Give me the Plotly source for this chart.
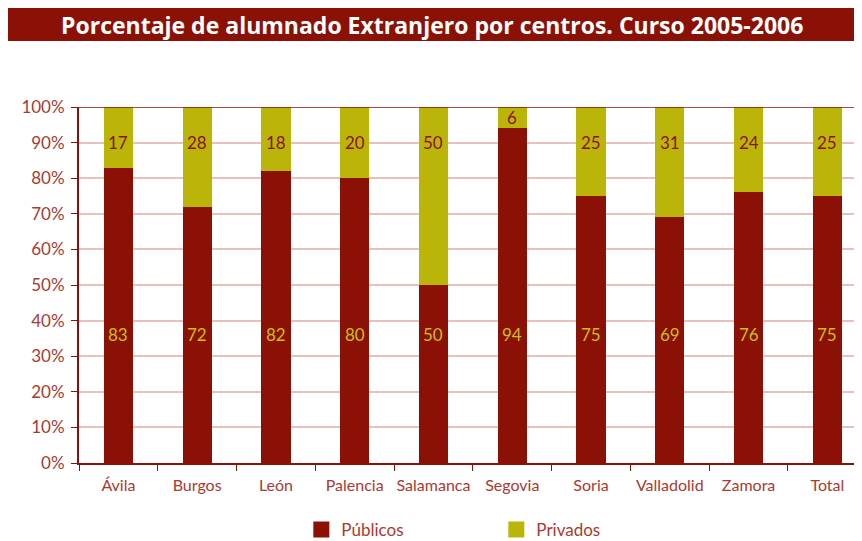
import plotly.graph_objects as go

categories = ["Ávila", "Burgos", "León", "Palencia", "Salamanca", "Segovia", "Soria", "Valladolid", "Zamora", "Total"]
publicos = [83, 72, 82, 80, 50, 94, 75, 69, 76, 75]
privados = [17, 28, 18, 20, 50, 6, 25, 31, 24, 25]
y_ticks = [0, 10, 20, 30, 40, 50, 60, 70, 80, 90, 100]
y_tick_text = [f"{v}%" for v in y_ticks]

RED = "rgb(139,17,7)"
OLIVE = "rgb(187,181,10)"
LABEL_YELLOW = "rgb(205,190,20)"
AXIS_TXT = "rgb(168,58,50)"
GRID = "rgb(230,195,186)"
FONT = "Lato"

# page offset: the browser places the figure 8px from the top-left corner
W, H = 854, 533
L, T, B = 71, 99, 78
PW, PH = W - L, H - T - B

fig = go.Figure()
fig.add_bar(x=categories, y=publicos, name="Públicos", marker=dict(color=RED, line=dict(width=0)),
            width=0.37, showlegend=False)
fig.add_bar(x=categories, y=privados, name="Privados", marker=dict(color=OLIVE, line=dict(width=0)),
            width=0.37, showlegend=False)

# legend proxies
fig.add_scatter(x=[None], y=[None], mode="markers", name="Públicos",
                marker=dict(symbol="square", size=20, color=RED))
fig.add_scatter(x=[None], y=[None], mode="markers", name="Privados",
                marker=dict(symbol="square", size=20, color=OLIVE))

annotations = []
for c, p, q in zip(categories, publicos, privados):
    annotations.append(dict(x=c, y=36, text=str(p), showarrow=False, xref="x", yref="y",
                            font=dict(family=FONT, size=17, color=LABEL_YELLOW)))
    yq = 90 if q >= 15 else p + q / 2
    annotations.append(dict(x=c, y=yq, text=str(q), showarrow=False, xref="x", yref="y",
                            font=dict(family=FONT, size=17, color=RED)))

annotations.append(dict(x=(424 - L) / PW, y=(H - B - 16.5) / PH, xref="paper", yref="paper",
                        text="<b>Porcentaje de alumnado Extranjero por centros. Curso 2005-2006</b>",
                        showarrow=False, xanchor="center", yanchor="middle",
                        font=dict(family="Open Sans", size=23, color="white")))

fig.update_layout(
    width=W, height=H,
    barmode="stack",
    plot_bgcolor="white", paper_bgcolor="white",
    margin=dict(l=L, r=0, t=T, b=B, autoexpand=False),
    font=dict(family=FONT, color=AXIS_TXT),
    showlegend=True,
    legend=dict(orientation="h", x=0.533, xanchor="center",
                yref="container", y=(H - 522) / H, yanchor="middle",
                traceorder="normal",
                font=dict(family=FONT, size=17, color=AXIS_TXT),
                entrywidth=150, entrywidthmode="pixels", itemsizing="trace",
                bgcolor="rgba(0,0,0,0)"),
    shapes=[
        dict(type="rect", xref="paper", yref="paper",
             x0=(0 - L) / PW, x1=(848 - L) / PW,
             y0=(H - B - 33) / PH, y1=(H - B - 0) / PH,
             fillcolor=RED, line=dict(width=0), layer="below"),
        dict(type="line", xref="paper", yref="y", x0=0, x1=1, y0=100, y1=100,
             line=dict(color=RED, width=1.5)),
    ],
    annotations=annotations,
)

fig.update_xaxes(
    type="category", range=[-0.5, 9.44],
    showline=True, linecolor=RED, linewidth=2,
    ticks="outside", tickson="boundaries", ticklen=6, tickcolor=RED, tickwidth=1,
    tickangle=0, automargin=False, ticklabelstandoff=7,
    showgrid=False, tickfont=dict(family=FONT, size=16, color=AXIS_TXT),
)
fig.update_yaxes(
    range=[0, 100], tickvals=y_ticks, ticktext=y_tick_text,
    showline=True, linecolor=RED, linewidth=2,
    ticks="outside", ticklen=6, tickcolor=RED, tickwidth=1,
    showgrid=True, gridcolor=GRID, gridwidth=2,
    zeroline=False, automargin=False,
    tickfont=dict(family=FONT, size=17, color=AXIS_TXT),
    ticklabelstandoff=3,
)

fig.write_html("out.html")
